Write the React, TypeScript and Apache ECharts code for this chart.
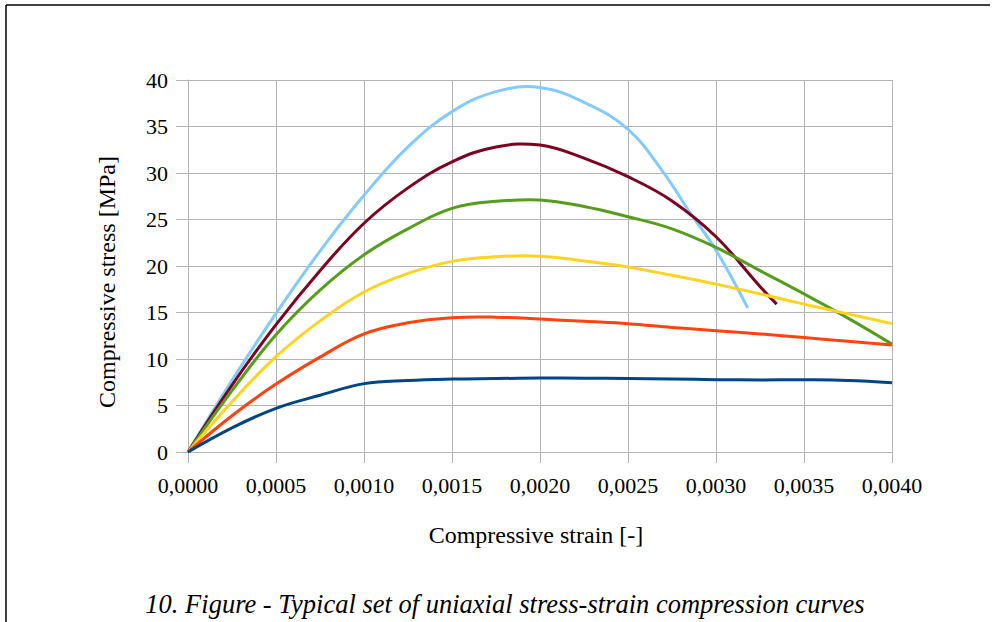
import React, { useEffect, useRef } from "react";
import * as echarts from "echarts";

const blueX = [0, 0.00025, 0.0005, 0.00075, 0.001, 0.00125, 0.0015, 0.00175, 0.002, 0.00225, 0.0025, 0.0027, 0.00285, 0.003, 0.00318];
const blueY = [0, 7.7, 14.9, 21.6, 27.6, 32.8, 36.6, 38.75, 39.2, 37.6, 34.7, 30.1, 25.8, 21.7, 15.5];

const redX = [0, 0.00025, 0.0005, 0.00075, 0.001, 0.00125, 0.0015, 0.00175, 0.002, 0.00225, 0.0025, 0.00275, 0.003, 0.00325, 0.003345];
const redY = [0, 7.2, 13.7, 19.5, 24.6, 28.4, 31.2, 32.8, 33.0, 31.6, 29.6, 27.0, 23.15, 17.8, 15.9];

const greenX = [0, 0.00025, 0.0005, 0.00075, 0.001, 0.00125, 0.0015, 0.00175, 0.002, 0.00225, 0.0025, 0.00275, 0.003, 0.00325, 0.0035, 0.00375, 0.004];
const greenY = [0, 6.6, 12.6, 17.4, 21.2, 24.0, 26.2, 26.95, 27.1, 26.4, 25.3, 24.0, 22.0, 19.5, 17.0, 14.4, 11.6];

const yellowX = [0, 0.00025, 0.0005, 0.00075, 0.001, 0.00125, 0.0015, 0.00175, 0.002, 0.00225, 0.0025, 0.00275, 0.003, 0.00325, 0.0035, 0.00375, 0.004];
const yellowY = [0, 5.4, 10.25, 14.1, 17.2, 19.2, 20.5, 21.0, 21.05, 20.55, 19.9, 19.0, 18.05, 17.0, 15.9, 14.85, 13.8];

const orangeX = [0, 0.00025, 0.0005, 0.00075, 0.001, 0.00125, 0.0015, 0.00175, 0.002, 0.00225, 0.0025, 0.00275, 0.003, 0.00325, 0.0035, 0.00375, 0.004];
const orangeY = [0, 3.9, 7.3, 10.2, 12.7, 13.9, 14.44, 14.5, 14.3, 14.05, 13.8, 13.4, 13.05, 12.7, 12.3, 11.9, 11.5];

const navyX = [0, 0.00025, 0.0005, 0.00075, 0.001, 0.00125, 0.0015, 0.00175, 0.002, 0.00225, 0.0025, 0.00275, 0.003, 0.00325, 0.0035, 0.00375, 0.004];
const navyY = [0, 2.6, 4.7, 6.1, 7.35, 7.7, 7.85, 7.9, 7.95, 7.93, 7.9, 7.85, 7.78, 7.75, 7.76, 7.7, 7.45];

const xTicks = [0, 0.0005, 0.001, 0.0015, 0.002, 0.0025, 0.003, 0.0035, 0.004];
const yTicks = [0, 5, 10, 15, 20, 25, 30, 35, 40];

const xName = "Compressive strain [-]";
const yName = "Compressive stress [MPa]";
const caption = "10. Figure - Typical set of uniaxial stress-strain compression curves";

const FONT = "Liberation Serif";

function pairs(xs: number[], ys: number[]) {
  return xs.map((x, i) => [x, ys[i]]);
}

export default function App() {
  const ref = useRef<HTMLDivElement>(null);
  useEffect(() => {
    document.body.style.margin = "0";
    if (!ref.current) return;
    const chart = echarts.init(ref.current, null, { renderer: "svg" });
    const mk = (name: string, xs: number[], ys: number[], color: string) => {
      const data = pairs(xs, ys);
      return {
        name,
        type: "custom",
        data,
        z: 3,
        renderItem: (params: any, api: any) => {
          if (params.dataIndex !== 0) return null;
          const pts = data.map((d) => api.coord(d));
          return {
            type: "polyline",
            shape: { points: pts, smooth: 0.4 },
            style: { stroke: color, lineWidth: 3, fill: "none", lineJoin: "round", lineCap: "butt" },
          };
        },
      };
    };
    chart.setOption({
      animation: false,
      backgroundColor: "#ffffff",
      grid: { left: 188, right: 100, top: 80, bottom: 170 },
      xAxis: {
        type: "value",
        min: xTicks[0],
        max: xTicks[xTicks.length - 1],
        interval: 0.0005,
        axisLine: { show: true, lineStyle: { color: "#b3b3b3", width: 1 } },
        axisTick: { show: true, length: 11, lineStyle: { color: "#b3b3b3" } },
        axisLabel: {
          fontFamily: FONT,
          fontSize: 22,
          color: "#000",
          margin: 22,
          formatter: (v: number) => v.toFixed(4).replace(".", ","),
        },
        splitLine: { show: true, lineStyle: { color: "#b3b3b3", width: 1 } },
      },
      yAxis: {
        type: "value",
        min: yTicks[0],
        max: yTicks[yTicks.length - 1],
        interval: 5,
        axisLine: { show: true, lineStyle: { color: "#b3b3b3", width: 1 } },
        axisTick: { show: true, length: 12, lineStyle: { color: "#b3b3b3" } },
        axisLabel: { fontFamily: FONT, fontSize: 22, color: "#000", margin: 20 },
        splitLine: { show: true, lineStyle: { color: "#b3b3b3", width: 1 } },
      },
      series: [
        mk("s1", blueX, blueY, "#83caff"),
        mk("s2", redX, redY, "#7e0021"),
        mk("s3", greenX, greenY, "#579d1c"),
        mk("s4", yellowX, yellowY, "#ffd320"),
        mk("s5", orangeX, orangeY, "#ff420e"),
        mk("s6", navyX, navyY, "#004586"),
      ],
      graphic: [
        { type: "line", shape: { x1: 6, y1: 5, x2: 990, y2: 5 }, style: { stroke: "#000", lineWidth: 1.5 } },
        { type: "line", shape: { x1: 6, y1: 5, x2: 6, y2: 622 }, style: { stroke: "#000", lineWidth: 1.5 } },
        {
          type: "text",
          x: 536,
          y: 535,
          style: {
            text: xName,
            font: `24px "${FONT}"`,
            fill: "#000",
            textAlign: "center",
            textVerticalAlign: "middle",
          },
        },
        {
          type: "text",
          x: 107,
          y: 282,
          rotation: Math.PI / 2,
          style: {
            text: yName,
            font: `24px "${FONT}"`,
            fill: "#000",
            textAlign: "center",
            textVerticalAlign: "middle",
          },
        },
        {
          type: "text",
          x: 505,
          y: 604,
          style: {
            text: caption,
            font: `italic 26.5px "${FONT}"`,
            fill: "#000",
            textAlign: "center",
            textVerticalAlign: "middle",
          },
        },
      ],
    });
    return () => chart.dispose();
  }, []);
  return <div ref={ref} style={{ width: 992, height: 622 }} />;
}
